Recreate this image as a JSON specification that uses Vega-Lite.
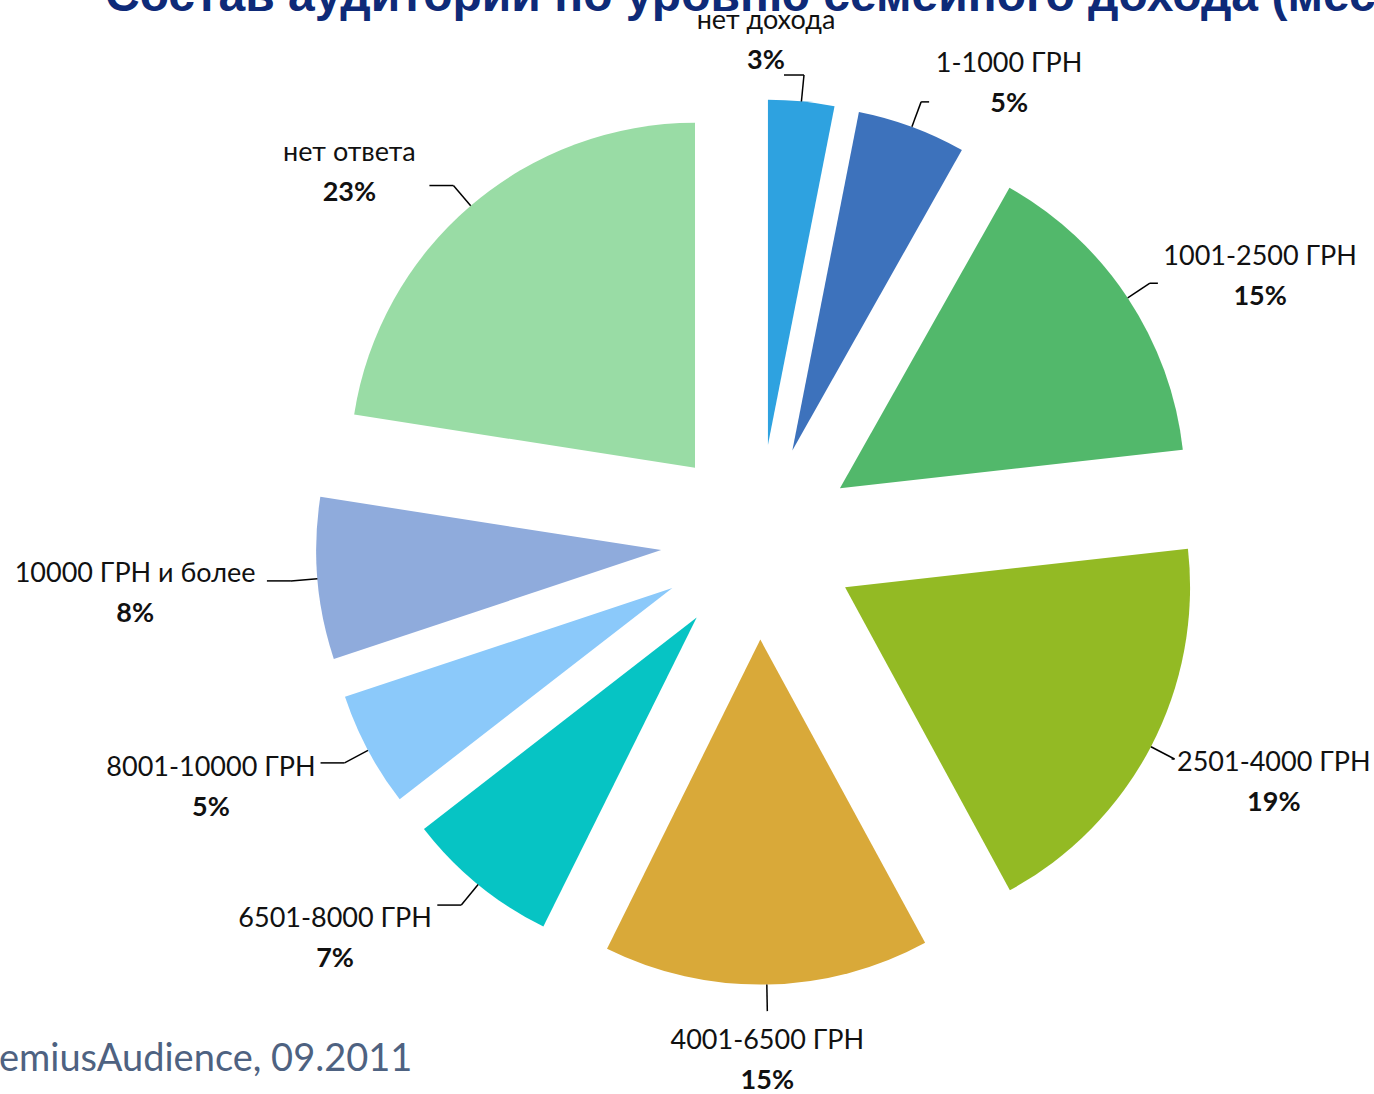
{
  "$schema": "https://vega.github.io/schema/vega-lite/v6.json",
  "width": 1374,
  "height": 1094,
  "autosize": "none",
  "padding": 0,
  "background": "white",
  "config": {"view": {"stroke": null}},
  "title": {
    "text": "Состав аудитории по уровню семейного дохода  (месячного)",
    "anchor": "start",
    "frame": "group",
    "dx": 105,
    "offset": -21,
    "font": "Liberation Sans",
    "fontSize": 48,
    "fontWeight": "bold",
    "color": "#0E2A78"
  },
  "data": {
    "values": [
      {"order": 1, "label": "нет дохода", "share": 0.031},
      {"order": 2, "label": "1-1000 ГРН", "share": 0.051},
      {"order": 3, "label": "1001-2500 ГРН", "share": 0.151},
      {"order": 4, "label": "2501-4000 ГРН", "share": 0.189},
      {"order": 5, "label": "4001-6500 ГРН", "share": 0.153},
      {"order": 6, "label": "6501-8000 ГРН", "share": 0.072},
      {"order": 7, "label": "8001-10000 ГРН", "share": 0.054},
      {"order": 8, "label": "10000 ГРН и более", "share": 0.076},
      {"order": 9, "label": "нет ответа", "share": 0.226}
    ]
  },
  "transform": [
    {"stack": "share", "groupby": [], "sort": [{"field": "order", "order": "ascending"}], "offset": "normalize", "as": ["s0", "s1"]},
    {"calculate": "PI*(datum.s0+datum.s1)", "as": "mid"},
    {"calculate": "sin(datum.mid)", "as": "sn"},
    {"calculate": "cos(datum.mid)", "as": "cs"},
    {"calculate": "0.283*datum.sn", "as": "ax"},
    {"calculate": "0.283*datum.cs", "as": "ay"},
    {"calculate": "1.283*datum.sn", "as": "ex"},
    {"calculate": "1.283*datum.cs", "as": "ey"},
    {"calculate": "1.36*datum.sn", "as": "px"},
    {"calculate": "1.36*datum.cs", "as": "py"},
    {"calculate": "abs(datum.sn)>=0.3", "as": "side"},
    {"calculate": "datum.sn>0?1:-1", "as": "sg"},
    {"calculate": "length(datum.label)*7.4/345", "as": "hw"},
    {"calculate": "datum.sg>0 ? 14/345 : 30/345", "as": "gap"},
    {"calculate": "datum.side ? (datum.sg>0 ? min(datum.px+datum.gap+datum.hw, 1.784-datum.hw-4/345) : max(datum.px-datum.gap-datum.hw, -2.199+datum.hw+4/345)) : (datum.cs>0 ? datum.px-38/345 : datum.px)", "as": "lx"},
    {"calculate": "datum.side ? datum.lx - datum.sg*(datum.hw+6/345) : (datum.cs>0 ? datum.px-20/345 : datum.px)", "as": "qx"},
    {"calculate": "datum.side ? datum.py + (30*datum.cs - 10.6)/345 : datum.py + (datum.cs>0 ? 34 : -50)/345", "as": "ly"},
    {"calculate": "datum.ly + 20/345", "as": "nameY"},
    {"calculate": "datum.ly - 20/345", "as": "pctY"}
  ],
  "encoding": {
    "x": {
      "field": "lx", "type": "quantitative",
      "scale": {"domain": [-1, 1], "range": [413.5, 1103.5]},
      "axis": {
        "title": "gemiusAudience, 09.2011",
        "orient": "bottom",
        "domain": false, "ticks": false, "labels": false, "grid": false,
        "titleFont": "Lato", "titleFontSize": 38, "titleFontWeight": "normal",
        "titleColor": "#4E6281", "titleAnchor": "start", "titleAlign": "left",
        "titleBaseline": "alphabetic", "titleX": -21, "titleY": -24
      }
    },
    "y": {"field": "nameY", "type": "quantitative", "scale": {"domain": [-1, 1], "range": [887, 197]}, "axis": null}
  },
  "layer": [
    {
      "mark": {"type": "arc", "outerRadius": 345, "stroke": null},
      "encoding": {
        "theta": {"field": "s0", "type": "quantitative", "stack": null, "scale": {"domain": [0, 1]}},
        "theta2": {"field": "s1"},
        "x": {"field": "ax", "type": "quantitative"},
        "y": {"field": "ay", "type": "quantitative"},
        "color": {
          "field": "label", "type": "nominal", "legend": null,
          "scale": {
            "domain": ["нет дохода", "1-1000 ГРН", "1001-2500 ГРН", "2501-4000 ГРН", "4001-6500 ГРН", "6501-8000 ГРН", "8001-10000 ГРН", "10000 ГРН и более", "нет ответа"],
            "range": ["#2EA2E0", "#3D72BC", "#52B86B", "#93BA24", "#D9A939", "#06C4C4", "#8BC9FA", "#8FABDC", "#99DCA5"]
          }
        }
      }
    },
    {
      "mark": {"type": "rule", "color": "#000000", "strokeWidth": 1.5},
      "encoding": {
        "x": {"field": "ex", "type": "quantitative"},
        "y": {"field": "ey", "type": "quantitative"},
        "x2": {"field": "px"},
        "y2": {"field": "py"}
      }
    },
    {
      "mark": {"type": "rule", "color": "#000000", "strokeWidth": 1.5},
      "encoding": {
        "x": {"field": "px", "type": "quantitative"},
        "y": {"field": "py", "type": "quantitative"},
        "x2": {"field": "qx"},
        "y2": {"field": "py"}
      }
    },
    {
      "mark": {"type": "text", "font": "Lato", "fontSize": 27, "color": "#111111", "align": "center", "baseline": "middle"},
      "encoding": {
        "text": {"field": "label"}
      }
    },
    {
      "mark": {"type": "text", "font": "Lato", "fontSize": 27, "fontWeight": "bold", "color": "#111111", "align": "center", "baseline": "middle"},
      "encoding": {
        "y": {"field": "pctY", "type": "quantitative"},
        "text": {"field": "share", "type": "quantitative", "format": ".0%"}
      }
    }
  ]
}
